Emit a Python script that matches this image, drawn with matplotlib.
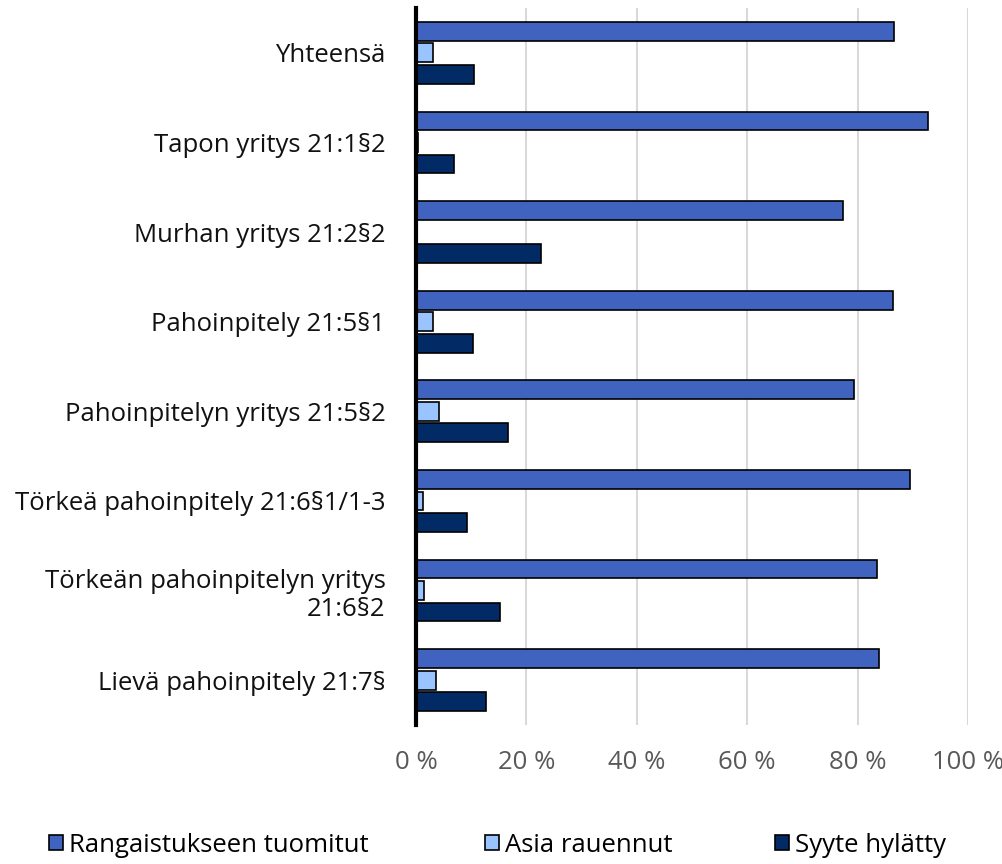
import matplotlib
matplotlib.use('Agg')
import matplotlib.pyplot as plt
import numpy as np

plt.rcParams['font.family'] = ['Open Sans', 'DejaVu Sans']

categories = ['Yhteensä', 'Tapon yritys 21:1§2', 'Murhan yritys 21:2§2',
              'Pahoinpitely 21:5§1', 'Pahoinpitelyn yritys 21:5§2',
              'Törkeä pahoinpitely 21:6§1/1-3',
              'Törkeän pahoinpitelyn yritys\n21:6§2', 'Lievä pahoinpitely 21:7§']
tuomitut = [86.6, 92.7, 77.3, 86.5, 79.3, 89.5, 83.5, 83.8]
rauennut = [3.0, 0.4, 0.0, 3.1, 4.2, 1.2, 1.4, 3.6]
hylatty = [10.5, 6.9, 22.7, 10.4, 16.6, 9.3, 15.2, 12.6]
series_names = ['Rangaistukseen tuomitut', 'Asia rauennut', 'Syyte hylätty']
colors = ['#4163C0', '#99C4FF', '#022B66']
xticks = [0, 20, 40, 60, 80, 100]

fig = plt.figure(figsize=(10.03, 8.64), dpi=100)
ax = fig.add_axes([416 / 1003, 1 - 725 / 864, 552 / 1003, 717 / 864])

y = np.arange(len(categories))
step = 0.24
h = 0.21
bars = []
for i, (vals, name, c) in enumerate(zip([tuomitut, rauennut, hylatty], series_names, colors)):
    b = ax.barh(y + (i - 1) * step, vals, height=h, color=c, edgecolor='black',
                linewidth=1.2, label=name, zorder=3)
    bars.append(b)

ax.set_xlim(0, 100)
ax.set_ylim(len(categories) - 0.5, -0.5)
ax.set_xticks(xticks)
ax.set_xticklabels([f'{t} %' for t in xticks], fontsize=18.5, color='#595959')
ax.set_yticks(y)
ax.set_yticklabels(categories, fontsize=18.5, color='#111111')
ax.tick_params(axis='both', length=0)
ax.tick_params(axis='x', pad=18)
ax.tick_params(axis='y', pad=22)
for lbl in ax.get_yticklabels():
    lbl.set_multialignment('right')
ax.grid(axis='x', color='#D9D9D9', linewidth=1.5, zorder=0)
for s in ['top', 'right', 'bottom']:
    ax.spines[s].set_visible(False)
ax.spines['left'].set_linewidth(3)
ax.spines['left'].set_color('black')
ax.spines['left'].set_zorder(4)

# legend entries placed one by one, like the original
legend_x = [39 / 1003, 475 / 1003, 765 / 1003]
for b, name, lx in zip(bars, series_names, legend_x):
    fig.legend([b], [name], loc='center left', bbox_to_anchor=(lx, 1 - 845 / 864),
               frameon=False, fontsize=18.5, handlelength=0.55, handleheight=0.55,
               handletextpad=0.2, borderaxespad=0)

fig.savefig('out.png', dpi=100)
